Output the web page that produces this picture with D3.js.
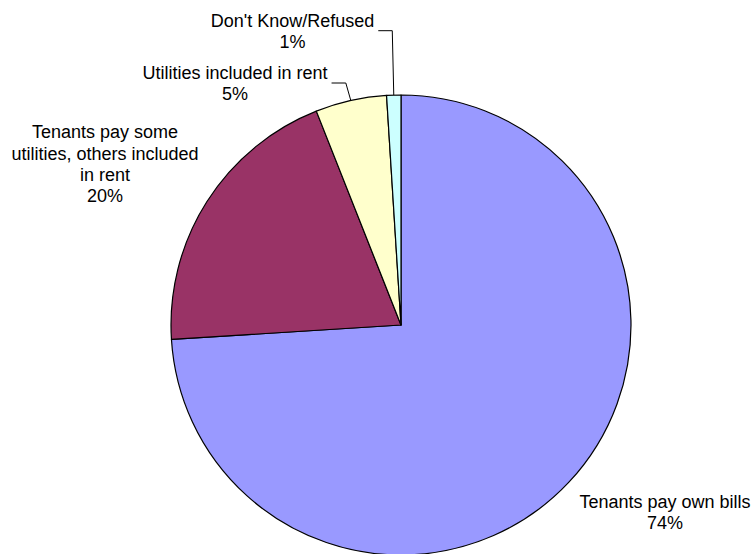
<!DOCTYPE html>
<html>
<head>
<meta charset="utf-8">
<script src="https://cdn.jsdelivr.net/npm/d3@7"></script>
<style>
  html, body { margin: 0; padding: 0; background: #fff; }
  svg { display: block; }
  text { font-family: "Liberation Sans", Arial, Helvetica, sans-serif; font-size: 18px; fill: #000; }
</style>
</head>
<body>
<svg id="chart" width="752" height="554"></svg>
<script>
// Rental utility arrangements (share of respondents)
const categories = [
  "Tenants pay own bills",
  "Tenants pay some utilities, others included in rent",
  "Utilities included in rent",
  "Don't Know/Refused"
];
const values = [74, 20, 5, 1];
const percentLabels = ["74%", "20%", "5%", "1%"];
// Label text broken into lines as shown on the chart
const labelLines = [
  ["Tenants pay own bills"],
  ["Tenants pay some", "utilities, others included", "in rent"],
  ["Utilities included in rent"],
  ["Don't Know/Refused"]
];
const colors = ["#9999FF", "#993366", "#FFFFCC", "#CCFFFF"];

// Layout
const width = 752, height = 554;
const cx = 401, cy = 325, radius = 230;
const lineHeight = 21.3;
// Label anchor (centre x, first baseline y) and whether a leader line is drawn
const labelPos = [
  { x: 665, y: 507.5, leader: false },
  { x: 105, y: 138.3, leader: false },
  { x: 235, y: 79, leader: true, elbowDx: -5 },
  { x: 292.5, y: 26.7, leader: true, elbowDx: -1.5 }
];

const svg = d3.select("#chart");
const g = svg.append("g").attr("transform", `translate(${cx},${cy})`);

const data = categories.map((c, i) => ({ name: c, value: values[i], i }));
const pie = d3.pie().sort(null).value(d => d.value);
const arcs = pie(data);

const arc = d3.arc().innerRadius(0).outerRadius(radius);
const edge = d3.arc().innerRadius(radius).outerRadius(radius);

g.selectAll("path.slice")
  .data(arcs)
  .join("path")
  .attr("class", "slice")
  .attr("d", arc)
  .attr("fill", d => colors[d.data.i])
  .attr("stroke", "#000")
  .attr("stroke-width", 1.2)
  .attr("stroke-linejoin", "round");

// Labels
const labels = svg.append("g");
arcs.forEach(a => {
  const i = a.data.i;
  const p = labelPos[i];
  const lines = labelLines[i].concat([percentLabels[i]]);
  const t = labels.append("text").attr("text-anchor", "middle");
  lines.forEach((ln, k) => {
    t.append("tspan").attr("x", p.x).attr("y", p.y + k * lineHeight).text(ln);
  });
  if (p.leader) {
    // leader runs from just past the first line to the slice's outer edge
    const firstWidth = t.select("tspan").node().getComputedTextLength();
    const startX = p.x + firstWidth / 2 + 4;
    const ly = p.y + 4;
    const [ex, ey] = edge.centroid(a);
    const px = cx + ex, py = cy + ey;
    const elbowX = px + p.elbowDx;
    labels.append("path")
      .attr("d", d3.line()([[startX, ly], [elbowX, ly], [px, py]]))
      .attr("fill", "none")
      .attr("stroke", "#000")
      .attr("stroke-width", 1);
  }
});
</script>
</body>
</html>
